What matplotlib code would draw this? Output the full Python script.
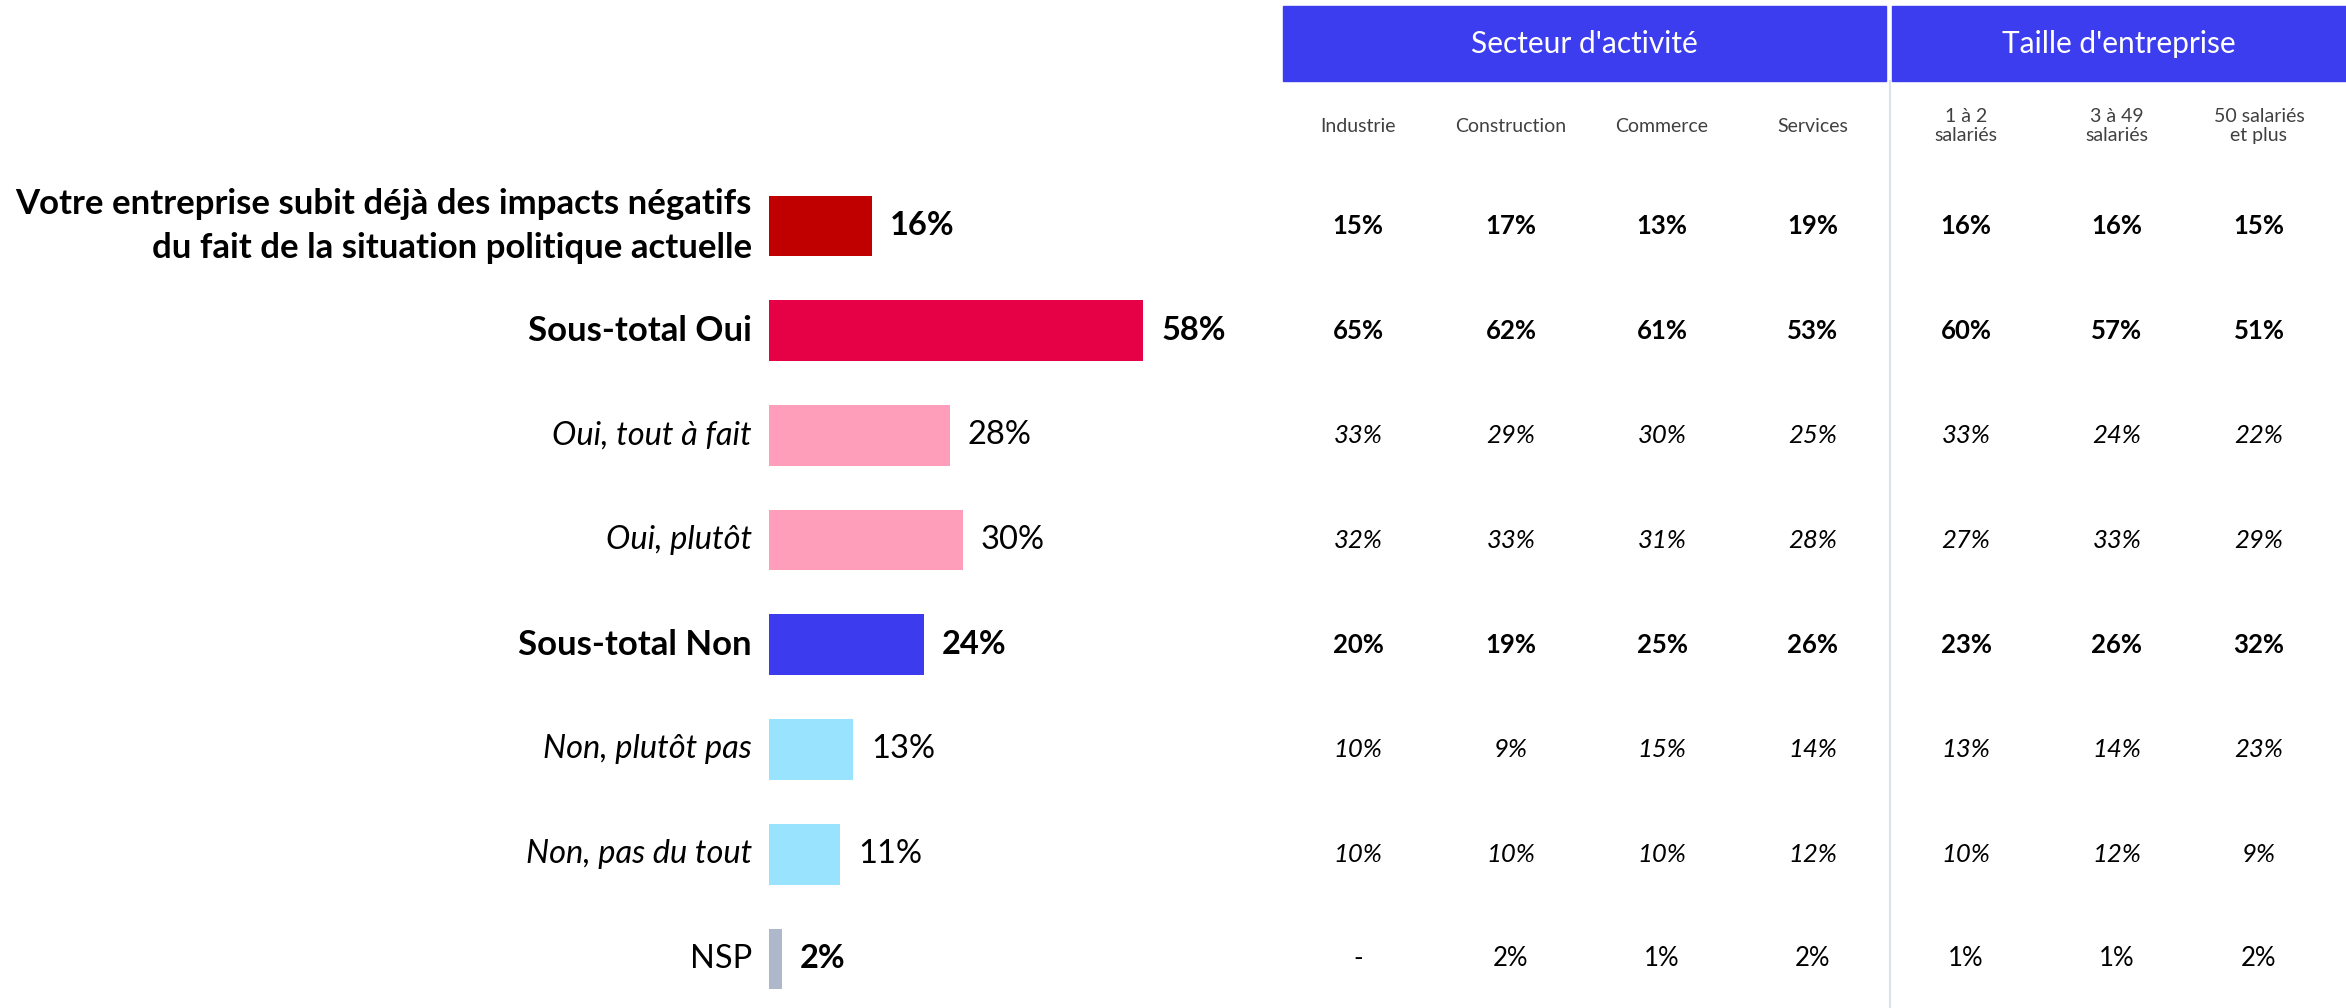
import matplotlib.pyplot as plt
from matplotlib.patches import Rectangle
from matplotlib.transforms import blended_transform_factory

plt.rcParams['font.family'] = ['Lato', 'DejaVu Sans']

# --- Data ---
categories = [
    "Votre entreprise subit déjà des impacts négatifs\ndu fait de la situation politique actuelle",
    "Sous-total Oui",
    "Oui, tout à fait",
    "Oui, plutôt",
    "Sous-total Non",
    "Non, plutôt pas",
    "Non, pas du tout",
    "NSP",
]
totals = [16, 58, 28, 30, 24, 13, 11, 2]
styles = ['bold', 'bold', 'italic', 'italic', 'bold', 'italic', 'italic', 'normal']
colors = ['#C00000', '#E60045', '#FF9EBB', '#FF9EBB', '#3C3CEE', '#99E3FF', '#99E3FF', '#ADB9CA']

groups = ["Secteur d'activité", "Taille d'entreprise"]
columns = ["Industrie", "Construction", "Commerce", "Services",
           "1 à 2\nsalariés", "3 à 49\nsalariés", "50 salariés\net plus"]
table = [
    ["15%", "17%", "13%", "19%", "16%", "16%", "15%"],
    ["65%", "62%", "61%", "53%", "60%", "57%", "51%"],
    ["33%", "29%", "30%", "25%", "33%", "24%", "22%"],
    ["32%", "33%", "31%", "28%", "27%", "33%", "29%"],
    ["20%", "19%", "25%", "26%", "23%", "26%", "32%"],
    ["10%", "9%", "15%", "14%", "13%", "14%", "23%"],
    ["10%", "10%", "10%", "12%", "10%", "12%", "9%"],
    ["-", "2%", "1%", "2%", "1%", "1%", "2%"],
]

W, H = 2346, 1008
fig = plt.figure(figsize=(W / 100, H / 100), dpi=100)

# bar axes: starts at x=769px, 6.45 px per percent, rows every 104.7 px from y=226
px_per_pct = 6.45
row_h = 104.7
y0 = 226
ax_w = 500
ax = fig.add_axes([769 / W, 0, ax_w / W, 1])
ax.set_xlim(0, ax_w / px_per_pct)
ax.set_ylim((H - y0) / row_h, -y0 / row_h)
ax.axis('off')

rows = list(range(len(categories)))
ax.barh(rows, totals, height=0.58, color=colors, left=0)

for i, (cat, val, st) in enumerate(zip(categories, totals, styles)):
    weight = 'bold' if st == 'bold' else 'normal'
    fstyle = 'italic' if st == 'italic' else 'normal'
    size = 25 if st == 'bold' else 23.5
    ax.text(-17 / px_per_pct, i, cat, ha='right', va='center', fontsize=size,
            fontweight=weight, fontstyle=fstyle, color='black', linespacing=1.45)
    vweight = 'bold' if st == 'bold' or i == 7 else 'normal'
    ax.text(val + 18 / px_per_pct, i, f"{val}%", ha='left', va='center', fontsize=23.5,
            fontweight=vweight, color='black')

# header bands
fig.patches.append(Rectangle((1283 / W, 1 - 81 / H), (1886 - 1283) / W, 75 / H,
                             transform=fig.transFigure, color='#3D3DF0'))
fig.patches.append(Rectangle((1892 / W, 1 - 81 / H), (W - 1892) / W, 75 / H,
                             transform=fig.transFigure, color='#3D3DF0'))
fig.text((1283 + 1886) / 2 / W, 1 - 44 / H, groups[0], ha='center', va='center',
         color='white', fontsize=21.5)
fig.text((1892 + W) / 2 / W, 1 - 44 / H, groups[1], ha='center', va='center',
         color='white', fontsize=21.5)

# separator
fig.add_artist(plt.Line2D([1890 / W, 1890 / W], [0, 1 - 81 / H], transform=fig.transFigure,
                          color='#DDE1EA', linewidth=1.5))

col_x = [1358, 1511, 1662, 1813, 1966, 2117, 2259]
for cx, label in zip(col_x, columns):
    fig.text(cx / W, 1 - 126 / H, label, ha='center', va='center', fontsize=14,
             color='#404040', linespacing=1.1)

trans = blended_transform_factory(fig.transFigure, ax.transData)
for i, row in enumerate(table):
    weight = 'bold' if styles[i] == 'bold' else 'normal'
    fstyle = 'italic' if styles[i] == 'italic' else 'normal'
    for cx, v in zip(col_x, row):
        ax.text(cx / W, i, v, transform=trans, ha='center', va='center', fontsize=18.5,
                fontweight=weight, fontstyle=fstyle, color='black', clip_on=False)

fig.savefig('out.png', dpi=100)
